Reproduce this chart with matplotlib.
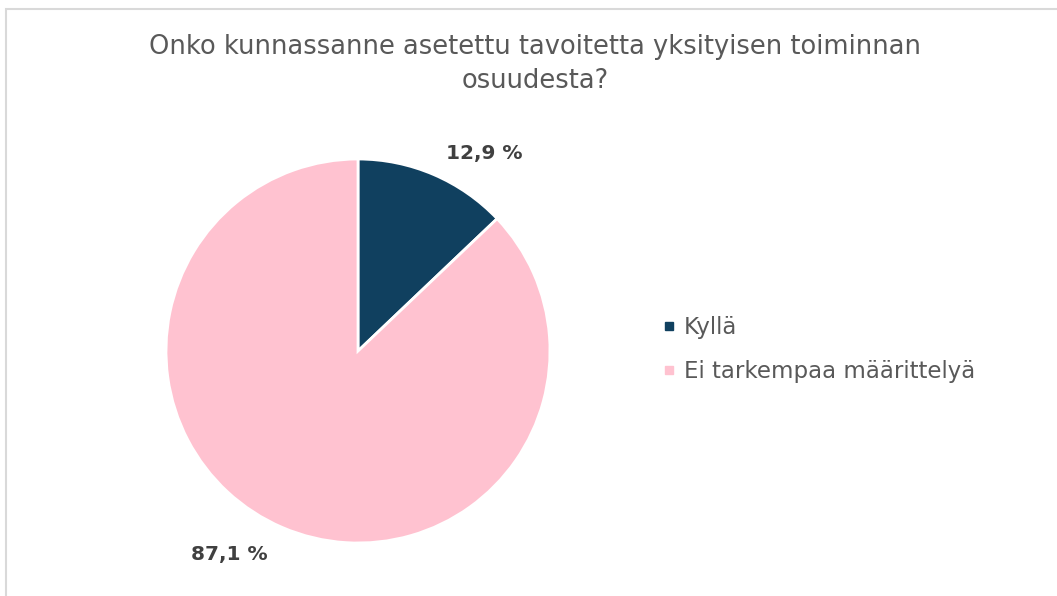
import matplotlib
matplotlib.use("Agg")
import matplotlib.pyplot as plt
from matplotlib.lines import Line2D
from matplotlib.patches import Rectangle

title = "Onko kunnassanne asetettu tavoitetta yksityisen toiminnan\nosuudesta?"
categories = ["Kyllä", "Ei tarkempaa määrittelyä"]
values = [12.9, 87.1]
colors = ["#10405F", "#FFC2D0"]
label_pos = [(0.66, 1.03), (-0.67, -1.06)]

W, H = 1057, 596
FONT = "DejaVu Sans"
fig = plt.figure(figsize=(W / 100, H / 100), dpi=100)
fig.patch.set_facecolor("white")

# outer frame
fig.patches.append(Rectangle((6 / W, -0.1), 1.2, (596 - 9) / H + 0.1, transform=fig.transFigure,
                             fill=False, edgecolor="#D9D9D9", linewidth=1.5))

cx, cy, r = 358, 351, 192
ax = fig.add_axes([(cx - r) / W, (H - cy - r) / H, 2 * r / W, 2 * r / H])
ax.pie(values, colors=colors, startangle=90, counterclock=False, radius=1,
       wedgeprops=dict(edgecolor="white", linewidth=2))
ax.set_xlim(-1, 1)
ax.set_ylim(-1, 1)
ax.set_aspect("equal")
ax.axis("off")

for v, (lx, ly) in zip(values, label_pos):
    ax.text(lx, ly, f"{v:.1f} %".replace(".", ","), ha="center", va="center",
            fontsize=14.5, fontweight="bold", color="#404040", family=FONT,
            clip_on=False)

fig.text(535 / W, 1 - 64 / H, title, ha="center", va="center", fontsize=18.5,
         color="#595959", family=FONT, linespacing=1.36)

handles = [Line2D([], [], marker="s", linestyle="none", markersize=6,
                  markerfacecolor=c, markeredgecolor=c) for c in colors]
leg = fig.legend(handles, categories, loc="center left",
                 bbox_to_anchor=(662 / W, 1 - 349.5 / H), frameon=False,
                 prop=dict(family=FONT, size=16.5), labelcolor="#595959",
                 handlelength=0.6, handletextpad=0.35, labelspacing=0.95,
                 borderpad=0, borderaxespad=0)

fig.savefig("out.png", dpi=100, facecolor="white")
